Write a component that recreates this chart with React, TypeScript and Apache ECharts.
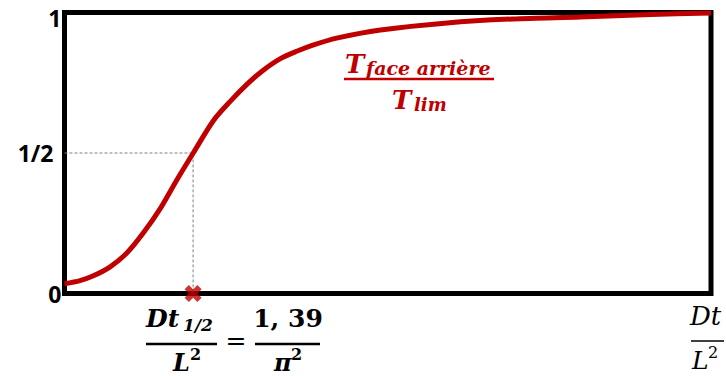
import React, { useEffect, useRef } from "react";
import * as echarts from "echarts";

// Fourier number Dt/L^2 (x) and rear-face temperature ratio T/Tlim (y)
const fourier = [0, 0.017, 0.031, 0.05, 0.068, 0.086, 0.105, 0.123, 0.141, 0.163, 0.181, 0.2, 0.217, 0.236, 0.255, 0.272, 0.298, 0.346, 0.419, 0.491, 0.565, 0.642, 0.708];
const ratio = [0.035, 0.046, 0.062, 0.095, 0.143, 0.214, 0.303, 0.404, 0.5, 0.615, 0.682, 0.745, 0.793, 0.835, 0.863, 0.884, 0.909, 0.938, 0.963, 0.977, 0.984, 0.993, 0.998];
const halfTime = 1.39 / (Math.PI * Math.PI);
const yTickLabels: Record<string, string> = { "0": "0", "0.5": "{h|1/2}", "1": "{t|1}" };

const RED = "#C00000";
const MATH = "DejaVu Serif";
const TICK_FONT = "Noto Sans";

export default function App() {
  const ref = useRef<HTMLDivElement>(null);
  useEffect(() => {
    if (!ref.current) return;
    const chart = echarts.init(ref.current, undefined, { renderer: "svg" });
    const curve = fourier.map((f, i) => [f, ratio[i]]);
    const txt = (text: string, x: number, y: number, size: number, opts: any = {}) => ({
      type: "text",
      x,
      y,
      z: 10,
      style: {
        text,
        fontFamily: MATH,
        fontSize: size,
        fontWeight: opts.weight ?? "bold",
        fontStyle: opts.style ?? "italic",
        fill: opts.fill ?? "#000",
        align: opts.align ?? "left",
        verticalAlign: "middle",
      },
    });
    const bar = (x1: number, x2: number, y: number, color = "#000", w = 2.5) => ({
      type: "line",
      z: 10,
      shape: { x1, y1: y, x2, y2: y },
      style: { stroke: color, lineWidth: w },
    });
    const tickStyle = { fontFamily: TICK_FONT, fontWeight: "bold", fontSize: 23, color: "#000" };
    chart.setOption({
      animation: false,
      grid: {
        left: 64.5,
        right: 15,
        top: 12.5,
        bottom: 82.5,
        outerBoundsMode: "none",
        containLabel: false,
        show: true,
        borderColor: "#000",
        borderWidth: 5,
        backgroundColor: "transparent",
      },
      xAxis: {
        type: "value",
        min: 0,
        max: 0.708,
        axisLine: { show: false },
        axisTick: { show: false },
        axisLabel: { show: false },
        splitLine: { show: false },
      },
      yAxis: {
        type: "value",
        min: 0,
        max: 1,
        interval: 0.5,
        axisLine: { show: false },
        axisTick: { show: false },
        splitLine: { show: false },
        axisLabel: {
          margin: 3,
          ...tickStyle,
          lineHeight: 22,
          formatter: (v: number) => yTickLabels[String(v)] ?? "",
          rich: {
            h: { ...tickStyle, lineHeight: 22, padding: [0, 8, 0, 0] },
            t: { ...tickStyle, lineHeight: 22, padding: [11, 0, 0, 0] },
          },
        },
      },
      series: [
        {
          type: "line",
          data: [
            [0, 0.5],
            [halfTime, 0.5],
            [halfTime, 0],
          ],
          symbol: "none",
          lineStyle: { color: "#7f7f7f", width: 1, type: [3, 2] },
          z: 1,
        },
        {
          type: "line",
          data: curve,
          smooth: 0.3,
          symbol: "none",
          clip: false,
          lineStyle: { color: RED, width: 5 },
          z: 3,
        },
        {
          type: "scatter",
          data: [[halfTime, 0]],
          symbol: "path://M0,4 L4,0 L8,4 L12,0 L16,4 L12,8 L16,12 L12,16 L8,12 L4,16 L0,12 L4,8 Z",
          symbolSize: 17,
          clip: false,
          itemStyle: { color: RED },
          z: 5,
        },
      ],
      graphic: [
        // left formula: Dt_{1/2} / L^2 = 1,39 / pi^2
        txt("Dt", 146, 318, 25),
        txt("1/2", 183, 325, 17),
        bar(146, 217, 344),
        txt("L", 173, 362, 24),
        txt("2", 190, 354, 16, { style: "normal" }),
        txt("=", 236, 340, 25, { style: "normal", weight: "normal", align: "center" }),
        txt("1, 39", 288, 318, 25, { style: "normal", align: "center" }),
        bar(255, 320, 344),
        txt("π", 274, 362, 24),
        txt("2", 291, 354, 16, { style: "normal" }),
        // right axis label: Dt / L^2
        txt("Dt", 690, 316, 26, { weight: "normal" }),
        bar(691, 724, 341, "#000", 1.5),
        txt("L", 692, 360, 25, { weight: "normal" }),
        txt("2", 708, 352, 16, { weight: "normal", style: "normal" }),
        // curve label: T_face arrière / T_lim
        txt("T", 345, 64, 26, { fill: RED }),
        txt("face arrière", 366, 68, 19, { fill: RED }),
        bar(344, 494, 79, RED),
        txt("T", 392, 100, 26, { fill: RED }),
        txt("lim", 414, 104, 18, { fill: RED }),
      ],
    });
    return () => chart.dispose();
  }, []);
  return <div ref={ref} style={{ position: "absolute", left: 0, top: 0, width: 726, height: 376 }} />;
}
